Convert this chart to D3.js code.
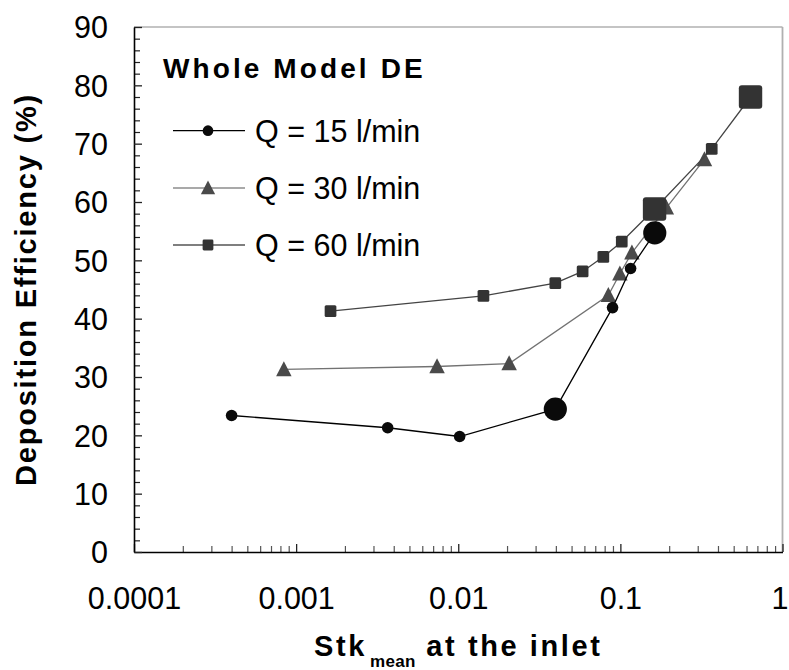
<!DOCTYPE html>
<html>
<head>
<meta charset="utf-8">
<script src="https://cdn.jsdelivr.net/npm/d3@7"></script>
<style>
  html, body { margin: 0; padding: 0; background: #fff; }
  svg { display: block; font-family: "Liberation Sans", Arial, Helvetica, sans-serif; }
</style>
</head>
<body>
<svg id="chart" width="789" height="670"></svg>
<script>
// Deposition efficiency vs. inlet Stokes number, three flow rates
const stk15 = [0.0004, 0.00367, 0.0102, 0.0397, 0.0895, 0.1156, 0.163];
const de15  = [23.4, 21.3, 19.8, 24.5, 41.9, 48.6, 54.7];
const big15 = [false, false, false, true, false, false, true];

const stk30 = [0.00084, 0.0074, 0.0206, 0.0843, 0.0993, 0.1178, 0.192, 0.330];
const de30  = [31.3, 31.8, 32.3, 44.0, 47.7, 51.3, 59.0, 67.3];
const big30 = [false, false, false, false, false, false, false, false];

const stk60 = [0.00163, 0.0143, 0.0397, 0.0585, 0.0785, 0.102, 0.1625, 0.366, 0.635];
const de60  = [41.3, 43.9, 46.1, 48.1, 50.6, 53.2, 58.8, 69.1, 78.0];
const big60 = [false, false, false, false, false, false, true, false, true];

const seriesNames = ["Q = 15 l/min", "Q = 30 l/min", "Q = 60 l/min"];
const xTickValues = [0.0001, 0.001, 0.01, 0.1, 1];
const xTickLabels = ["0.0001", "0.001", "0.01", "0.1", "1"];
const yTickValues = [0, 10, 20, 30, 40, 50, 60, 70, 80, 90];

const svg = d3.select("#chart");
const plotL = 134, plotR = 782.5, plotT = 27, plotB = 552;
const labelSize = 30.5;

const x = d3.scaleLog().domain([1e-4, 1]).range([plotL, plotR]);
const y = d3.scaleLinear().domain([0, 90]).range([plotB, plotT]);

// frame: top and right edges
svg.append("line").attr("x1", plotL).attr("x2", plotR).attr("y1", plotT).attr("y2", plotT)
  .attr("stroke", "#8a8a8a").attr("stroke-width", 1.2);
svg.append("line").attr("x1", plotR).attr("x2", plotR).attr("y1", plotT).attr("y2", plotB)
  .attr("stroke", "#b0b0b0").attr("stroke-width", 1.8);

// minor ticks
const xMinor = [];
for (let e = -4; e < 0; e++) for (let k = 2; k <= 9; k++) xMinor.push(k * Math.pow(10, e));
const yMinor = d3.range(0, 91, 2).filter(v => v % 10 !== 0);

svg.append("g").attr("transform", `translate(0,${plotB})`)
  .call(d3.axisBottom(x).tickValues(xMinor).tickSize(-6).tickFormat(""))
  .call(g => g.select(".domain").remove())
  .call(g => g.selectAll("line").attr("stroke", "#555").attr("stroke-width", 1.2));

svg.append("g").attr("transform", `translate(${plotL},0)`)
  .call(d3.axisLeft(y).tickValues(yMinor).tickSize(-6).tickFormat(""))
  .call(g => g.select(".domain").remove())
  .call(g => g.selectAll("line").attr("stroke", "#222").attr("stroke-width", 1.2));

// major axes with labels
const xAxis = svg.append("g").attr("transform", `translate(0,${plotB})`)
  .call(d3.axisBottom(x).tickValues(xTickValues).tickSize(-8).tickSizeOuter(0)
    .tickPadding(0).tickFormat((d, i) => xTickLabels[i]));
xAxis.select(".domain").attr("stroke", "#000").attr("stroke-width", 1.6);
xAxis.selectAll("line").attr("stroke", "#222").attr("stroke-width", 1.3);
xAxis.selectAll("text").attr("y", 57).attr("dy", null)
  .attr("font-size", labelSize).attr("fill", "#000")
  .attr("font-family", "'Liberation Sans', Arial, sans-serif");
// keep the last label inside the page edge
xAxis.selectAll("text").filter(d => d === 1).attr("x", -3);

const yAxis = svg.append("g").attr("transform", `translate(${plotL},0)`)
  .call(d3.axisLeft(y).tickValues(yTickValues).tickSize(-8).tickSizeOuter(0)
    .tickPadding(26).tickFormat(d3.format("d")));
yAxis.select(".domain").attr("stroke", "#000").attr("stroke-width", 1.6);
yAxis.selectAll("line").attr("stroke", "#222").attr("stroke-width", 1.3);
yAxis.selectAll("text").attr("dy", "0.36em")
  .attr("font-size", labelSize).attr("fill", "#000")
  .attr("font-family", "'Liberation Sans', Arial, sans-serif");

// axis titles
const xt = svg.append("text").attr("x", (plotL + plotR) / 2).attr("y", 656)
  .attr("text-anchor", "middle").attr("font-weight", "bold").attr("font-size", 29);
xt.append("tspan").attr("letter-spacing", 2.6).text("Stk");
xt.append("tspan").attr("font-size", 17).attr("letter-spacing", 0.3)
  .attr("dx", 3).attr("dy", 11).text("mean");
xt.append("tspan").attr("letter-spacing", 2.6).attr("dy", -11).text(" at the inlet");

svg.append("text")
  .attr("transform", `translate(36,${(plotT + plotB) / 2}) rotate(-90)`)
  .attr("text-anchor", "middle").attr("font-weight", "bold").attr("font-size", 29)
  .attr("letter-spacing", 1.8)
  .text("Deposition Efficiency (%)");

svg.append("text").attr("x", 163).attr("y", 78)
  .attr("font-weight", "bold").attr("font-size", 28).attr("letter-spacing", 3.1)
  .text("Whole Model DE");

// series styles
const styles = [
  { shape: "circle",   fill: "#0a0a0a", line: "#000",    lw: 1.3, stk: stk15, de: de15, big: big15 },
  { shape: "triangle", fill: "#4a4a4a", line: "#727272", lw: 1.3, stk: stk30, de: de30, big: big30 },
  { shape: "square",   fill: "#333333", line: "#444",    lw: 1.3, stk: stk60, de: de60, big: big60 }
];

function drawMarker(g, shape, cx, cy, scale, fill) {
  if (shape === "circle") {
    g.append("circle").attr("cx", cx).attr("cy", cy).attr("r", 5.8 * scale).attr("fill", fill);
  } else if (shape === "triangle") {
    const w = 15.5 * scale, h = 15 * scale;
    g.append("path")
      .attr("d", `M${cx},${cy - h * 0.55} L${cx + w / 2},${cy + h * 0.45} L${cx - w / 2},${cy + h * 0.45} Z`)
      .attr("fill", fill);
  } else {
    const s = 11.7 * scale;
    g.append("rect").attr("x", cx - s / 2).attr("y", cy - s / 2).attr("width", s).attr("height", s)
      .attr("rx", 1.5 * scale).attr("fill", fill);
  }
}

const line = d3.line().x(d => x(d[0])).y(d => y(d[1]));
const drawOrder = [1, 2, 0];
drawOrder.forEach(i => {
  const s = styles[i];
  const pts = s.stk.map((v, j) => [v, s.de[j], s.big[j]]);
  const g = svg.append("g");
  g.append("path").attr("d", line(pts)).attr("fill", "none")
    .attr("stroke", s.line).attr("stroke-width", s.lw);
  pts.forEach(p => drawMarker(g, s.shape, x(p[0]), y(p[1]), p[2] ? 2.0 : 1, s.fill));
});

// legend
const legendY = [130.7, 188, 245];
styles.forEach((s, i) => {
  const g = svg.append("g");
  g.append("line").attr("x1", 173).attr("x2", 245).attr("y1", legendY[i]).attr("y2", legendY[i])
    .attr("stroke", i === 1 ? "#555" : "#000").attr("stroke-width", 1.2);
  drawMarker(g, s.shape, 208, legendY[i], 0.92, s.fill);
  g.append("text").attr("x", 255).attr("y", legendY[i] + 11)
    .attr("font-size", labelSize).text(seriesNames[i]);
});
</script>
</body>
</html>
